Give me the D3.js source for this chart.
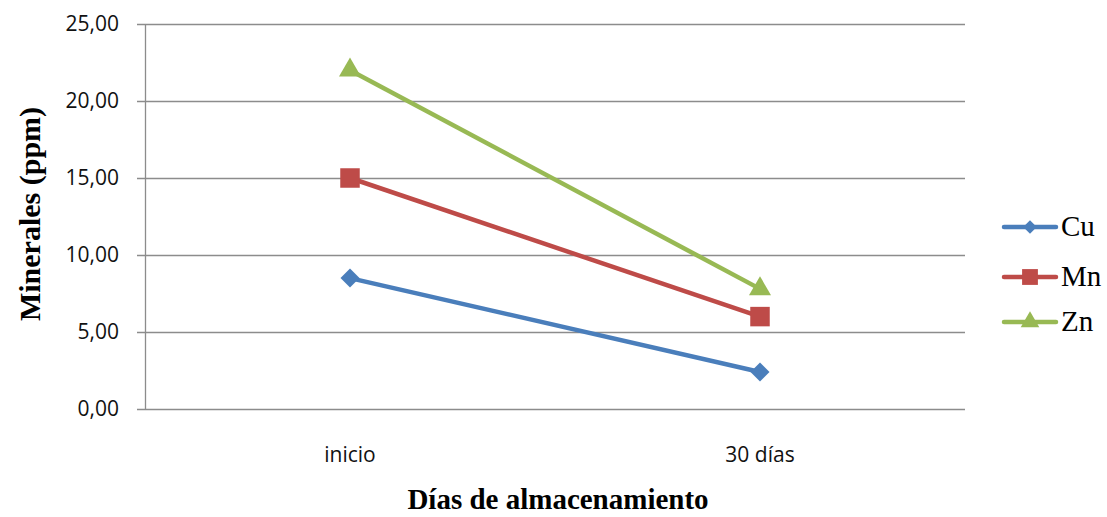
<!DOCTYPE html>
<html>
<head>
<meta charset="utf-8">
<script src="https://cdn.jsdelivr.net/npm/d3@7/dist/d3.min.js"></script>
<style>
  html, body { margin: 0; padding: 0; background: #fff; }
  svg { display: block; }
</style>
</head>
<body>
<svg id="chart" width="1107" height="517"></svg>
<script>
// Mineral content (ppm) at the start and after 30 days of storage
const categories = ["inicio", "30 días"];
const seriesNames = ["Cu", "Mn", "Zn"];
const cuValues = [8.5, 2.4];
const mnValues = [15.0, 6.0];
const znValues = [22.0, 7.8];
const yTicks = [0, 5, 10, 15, 20, 25];

const colors = { Cu: "#4a7ebb", Mn: "#be4b48", Zn: "#98b954" };
// Cu uses a square turned 45° so the diamond is as wide as it is tall
const symbols = { Cu: d3.symbolSquare, Mn: d3.symbolSquare, Zn: d3.symbolTriangle };
const symbolRotation = { Cu: 45, Mn: 0, Zn: 0 };
const symbolSizes = { Cu: 180, Mn: 380, Zn: 210 };
const legendSymbolSizes = { Cu: 90, Mn: 250, Zn: 150 };

const series = [
  { name: "Cu", values: cuValues },
  { name: "Mn", values: mnValues },
  { name: "Zn", values: znValues }
];

const svg = d3.select("#chart");
const plot = { left: 145, right: 965, top: 24, bottom: 409 };

const x = d3.scaleBand().domain(categories).range([plot.left, plot.right]);
const y = d3.scaleLinear().domain([0, 25]).range([plot.bottom, plot.top]);

const fmt = v => d3.format(".2f")(v).replace(".", ",");
const sansFont = "'Open Sans', Lato, sans-serif";
const serifFont = "'Liberation Serif', 'Times New Roman', serif";

// Horizontal gridlines
svg.append("g")
  .selectAll("line")
  .data(yTicks)
  .join("line")
  .attr("x1", plot.left - 8)
  .attr("x2", plot.right)
  .attr("y1", d => y(d) + 0.5)
  .attr("y2", d => y(d) + 0.5)
  .attr("stroke", "#8c8c8c")
  .attr("stroke-width", 1.3);

// Vertical axis line
svg.append("line")
  .attr("x1", plot.left + 0.5).attr("x2", plot.left + 0.5)
  .attr("y1", plot.top).attr("y2", plot.bottom)
  .attr("stroke", "#8c8c8c").attr("stroke-width", 1.3);

// Y tick labels
svg.append("g")
  .selectAll("text")
  .data(yTicks)
  .join("text")
  .attr("x", 119)
  .attr("y", d => y(d))
  .attr("dy", "0.33em")
  .attr("text-anchor", "end")
  .attr("font-family", sansFont)
  .attr("font-size", 21)
  .attr("fill", "#111")
  .text(fmt);

// X tick labels
svg.append("g")
  .selectAll("text")
  .data(categories)
  .join("text")
  .attr("x", d => x(d) + x.bandwidth() / 2)
  .attr("y", 462)
  .attr("text-anchor", "middle")
  .attr("font-family", sansFont)
  .attr("font-size", 21)
  .attr("fill", "#111")
  .text(d => d);

// Axis titles
svg.append("text")
  .attr("x", 558)
  .attr("y", 509)
  .attr("text-anchor", "middle")
  .attr("font-family", serifFont)
  .attr("font-weight", "bold")
  .attr("font-size", 29)
  .attr("fill", "#000")
  .text("Días de almacenamiento");

svg.append("text")
  .attr("transform", "translate(40,214) rotate(-90)")
  .attr("text-anchor", "middle")
  .attr("font-family", serifFont)
  .attr("font-weight", "bold")
  .attr("font-size", 30)
  .attr("fill", "#000")
  .text("Minerales (ppm)");

// Lines and markers
const line = d3.line()
  .x((d, i) => x(categories[i]) + x.bandwidth() / 2)
  .y(d => y(d));

series.forEach(s => {
  const g = svg.append("g");
  g.append("path")
    .datum(s.values)
    .attr("d", line)
    .attr("fill", "none")
    .attr("stroke", colors[s.name])
    .attr("stroke-width", 4.5)
    .attr("stroke-linejoin", "round");
  g.selectAll("path.mark")
    .data(s.values)
    .join("path")
    .attr("class", "mark")
    .attr("transform", (d, i) =>
      `translate(${x(categories[i]) + x.bandwidth() / 2},${y(d)}) rotate(${symbolRotation[s.name]})`)
    .attr("d", d3.symbol().type(symbols[s.name]).size(symbolSizes[s.name]))
    .attr("fill", colors[s.name]);
});

// Legend
const legendY = [227, 277, 322];
const legend = svg.append("g");
seriesNames.forEach((name, i) => {
  const ly = legendY[i];
  legend.append("line")
    .attr("x1", 1004).attr("x2", 1056)
    .attr("y1", ly).attr("y2", ly)
    .attr("stroke", colors[name])
    .attr("stroke-width", 4.5)
    .attr("stroke-linecap", "round");
  legend.append("path")
    .attr("transform", `translate(1030,${ly}) rotate(${symbolRotation[name]})`)
    .attr("d", d3.symbol().type(symbols[name]).size(legendSymbolSizes[name]))
    .attr("fill", colors[name]);
  legend.append("text")
    .attr("x", 1061)
    .attr("y", ly + 9)
    .attr("font-family", serifFont)
    .attr("font-size", 29)
    .attr("fill", "#000")
    .text(name);
});
</script>
</body>
</html>
